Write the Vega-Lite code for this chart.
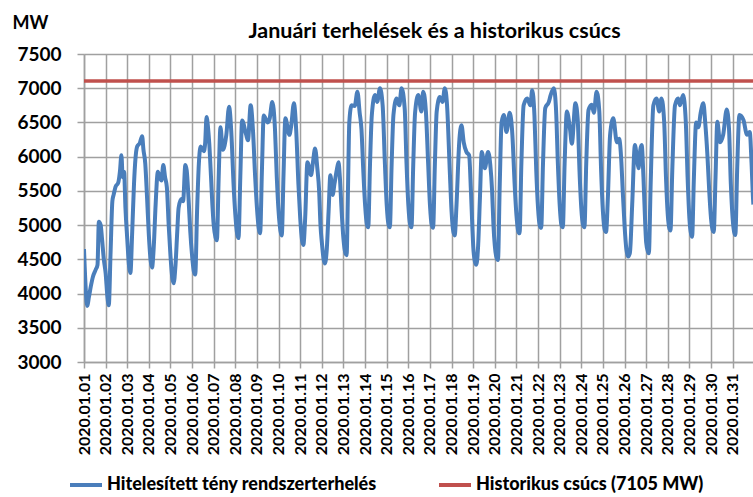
{
"$schema": "https://vega.github.io/schema/vega-lite/v6.json",
"width": 669, "height": 308,
"autosize": {"type": "none"},
"padding": {"left": 84, "top": 54, "right": 0, "bottom": 135},
"background": "white",
"config": {"font": "Lato", "view": {"stroke": null}},
"title": {"text": "Januári terhelések és a historikus csúcs", "fontSize": 21.5, "font": "Lato", "fontWeight": "bold", "color": "black", "anchor": "middle", "dx": 16, "offset": -28},
"encoding": {
"y": {"field": "v", "type": "quantitative",
"scale": {"domain": [3000, 7500], "nice": false},
"axis": {"title": "MW", "titleAngle": 0, "titleX": -72, "titleY": -26, "titleAlign": "left", "titleBaseline": "alphabetic", "titleFontSize": 18, "titleFontWeight": "bold", "titleColor": "black", "format": "d", "labelOverlap": false, "labelFlush": false, "labelFontSize": 19, "labelFontWeight": "bold", "labelColor": "black", "labelPadding": 16, "tickSize": 7, "tickColor": "#a0a0a0", "tickWidth": 1.5, "domainColor": "#a0a0a0", "domainWidth": 1.5, "gridColor": "#a0a0a0", "gridWidth": 1.5, "gridOpacity": 1, "values": [3000, 3500, 4000, 4500, 5000, 5500, 6000, 6500, 7000, 7500]}}
},
"layer": [
{
"data": {"values": [
{"t":"2020-01-01T00:00","v":4650},{"t":"2020-01-01T02:00","v":4050},{"t":"2020-01-01T03:30","v":3820},{"t":"2020-01-01T05:30","v":3950},{"t":"2020-01-01T07:30","v":4100},{"t":"2020-01-01T10:00","v":4250},{"t":"2020-01-01T13:00","v":4350},{"t":"2020-01-01T15:00","v":4420},{"t":"2020-01-01T16:30","v":5050},{"t":"2020-01-01T18:30","v":5000},{"t":"2020-01-01T20:00","v":4800},{"t":"2020-01-01T22:00","v":4500},
{"t":"2020-01-02T00:00","v":4300},{"t":"2020-01-02T02:00","v":3950},{"t":"2020-01-02T03:30","v":3830},{"t":"2020-01-02T05:30","v":4600},{"t":"2020-01-02T07:30","v":5350},{"t":"2020-01-02T09:00","v":5450},{"t":"2020-01-02T11:00","v":5560},{"t":"2020-01-02T14:00","v":5620},{"t":"2020-01-02T16:00","v":5800},{"t":"2020-01-02T17:30","v":6020},{"t":"2020-01-02T19:00","v":5700},{"t":"2020-01-02T20:30","v":5780},{"t":"2020-01-02T22:00","v":5250},
{"t":"2020-01-03T00:00","v":4800},{"t":"2020-01-03T02:00","v":4400},{"t":"2020-01-03T03:30","v":4300},{"t":"2020-01-03T05:30","v":4900},{"t":"2020-01-03T07:30","v":5600},{"t":"2020-01-03T09:00","v":5950},{"t":"2020-01-03T11:00","v":6150},{"t":"2020-01-03T14:00","v":6200},{"t":"2020-01-03T16:30","v":6300},{"t":"2020-01-03T18:00","v":6100},{"t":"2020-01-03T20:00","v":5900},{"t":"2020-01-03T22:00","v":5400},
{"t":"2020-01-04T00:00","v":4850},{"t":"2020-01-04T02:00","v":4480},{"t":"2020-01-04T03:30","v":4380},{"t":"2020-01-04T05:30","v":4700},{"t":"2020-01-04T07:30","v":5300},{"t":"2020-01-04T10:00","v":5780},{"t":"2020-01-04T12:00","v":5700},{"t":"2020-01-04T14:00","v":5650},{"t":"2020-01-04T16:00","v":5880},{"t":"2020-01-04T18:00","v":5700},{"t":"2020-01-04T20:00","v":5550},{"t":"2020-01-04T22:00","v":5000},
{"t":"2020-01-05T00:00","v":4550},{"t":"2020-01-05T02:00","v":4230},{"t":"2020-01-05T03:30","v":4150},{"t":"2020-01-05T05:30","v":4400},{"t":"2020-01-05T07:30","v":4900},{"t":"2020-01-05T09:00","v":5250},{"t":"2020-01-05T12:00","v":5380},{"t":"2020-01-05T14:00","v":5350},{"t":"2020-01-05T16:30","v":5880},{"t":"2020-01-05T18:00","v":5800},{"t":"2020-01-05T20:00","v":5400},{"t":"2020-01-05T22:00","v":4900},
{"t":"2020-01-06T00:00","v":4550},{"t":"2020-01-06T02:00","v":4320},{"t":"2020-01-06T03:30","v":4280},{"t":"2020-01-06T05:30","v":5200},{"t":"2020-01-06T07:30","v":5900},{"t":"2020-01-06T09:30","v":6150},{"t":"2020-01-06T13:00","v":6080},{"t":"2020-01-06T14:30","v":6200},{"t":"2020-01-06T16:00","v":6580},{"t":"2020-01-06T17:30","v":6450},{"t":"2020-01-06T19:00","v":6200},{"t":"2020-01-06T21:00","v":5700},{"t":"2020-01-06T22:30","v":5300},
{"t":"2020-01-07T00:00","v":5000},{"t":"2020-01-07T02:00","v":4820},{"t":"2020-01-07T03:30","v":4780},{"t":"2020-01-07T05:30","v":5700},{"t":"2020-01-07T07:30","v":6430},{"t":"2020-01-07T10:00","v":6100},{"t":"2020-01-07T14:00","v":6320},{"t":"2020-01-07T17:00","v":6730},{"t":"2020-01-07T19:30","v":6360},{"t":"2020-01-07T22:00","v":5600},
{"t":"2020-01-08T00:00","v":5150},{"t":"2020-01-08T02:00","v":4870},{"t":"2020-01-08T03:30","v":4810},{"t":"2020-01-08T05:30","v":5700},{"t":"2020-01-08T07:30","v":6530},{"t":"2020-01-08T12:00","v":6320},{"t":"2020-01-08T14:00","v":6240},{"t":"2020-01-08T17:00","v":6750},{"t":"2020-01-08T19:30","v":6400},{"t":"2020-01-08T22:00","v":5700},
{"t":"2020-01-09T00:00","v":5250},{"t":"2020-01-09T02:00","v":4950},{"t":"2020-01-09T03:30","v":4880},{"t":"2020-01-09T05:30","v":5800},{"t":"2020-01-09T07:30","v":6600},{"t":"2020-01-09T12:00","v":6500},{"t":"2020-01-09T14:00","v":6550},{"t":"2020-01-09T17:00","v":6800},{"t":"2020-01-09T20:00","v":6400},{"t":"2020-01-09T22:00","v":5700},
{"t":"2020-01-10T00:00","v":5200},{"t":"2020-01-10T02:00","v":4920},{"t":"2020-01-10T03:30","v":4850},{"t":"2020-01-10T05:30","v":5750},{"t":"2020-01-10T07:30","v":6560},{"t":"2020-01-10T12:00","v":6320},{"t":"2020-01-10T14:00","v":6450},{"t":"2020-01-10T17:00","v":6780},{"t":"2020-01-10T19:30","v":6400},{"t":"2020-01-10T22:00","v":5600},
{"t":"2020-01-11T00:00","v":5100},{"t":"2020-01-11T02:00","v":4780},{"t":"2020-01-11T03:30","v":4710},{"t":"2020-01-11T05:30","v":5100},{"t":"2020-01-11T08:00","v":5920},{"t":"2020-01-11T12:00","v":5730},{"t":"2020-01-11T14:00","v":5900},{"t":"2020-01-11T16:30","v":6120},{"t":"2020-01-11T19:00","v":5830},{"t":"2020-01-11T21:00","v":5500},{"t":"2020-01-11T22:30","v":5000},
{"t":"2020-01-12T00:00","v":4750},{"t":"2020-01-12T02:00","v":4500},{"t":"2020-01-12T03:30","v":4440},{"t":"2020-01-12T05:30","v":4650},{"t":"2020-01-12T07:30","v":5200},{"t":"2020-01-12T09:30","v":5730},{"t":"2020-01-12T12:00","v":5440},{"t":"2020-01-12T14:00","v":5600},{"t":"2020-01-12T16:30","v":5800},{"t":"2020-01-12T18:30","v":5920},{"t":"2020-01-12T20:00","v":5700},{"t":"2020-01-12T22:00","v":5200},
{"t":"2020-01-13T00:00","v":4800},{"t":"2020-01-13T02:00","v":4600},{"t":"2020-01-13T03:30","v":4560},{"t":"2020-01-13T05:00","v":5500},{"t":"2020-01-13T06:30","v":6500},{"t":"2020-01-13T09:00","v":6750},{"t":"2020-01-13T12:30","v":6740},{"t":"2020-01-13T15:30","v":6950},{"t":"2020-01-13T18:00","v":6640},{"t":"2020-01-13T20:00","v":6400},{"t":"2020-01-13T22:00","v":5800},
{"t":"2020-01-14T00:00","v":5300},{"t":"2020-01-14T02:00","v":5010},{"t":"2020-01-14T03:30","v":4970},{"t":"2020-01-14T05:30","v":5900},{"t":"2020-01-14T07:30","v":6610},{"t":"2020-01-14T11:00","v":6900},{"t":"2020-01-14T13:30","v":6800},{"t":"2020-01-14T16:30","v":7000},{"t":"2020-01-14T19:30","v":6750},{"t":"2020-01-14T22:00","v":5900},
{"t":"2020-01-15T00:00","v":5300},{"t":"2020-01-15T02:00","v":5010},{"t":"2020-01-15T03:30","v":4970},{"t":"2020-01-15T05:30","v":5900},{"t":"2020-01-15T07:30","v":6610},{"t":"2020-01-15T11:00","v":6850},{"t":"2020-01-15T14:00","v":6750},{"t":"2020-01-15T16:30","v":7000},{"t":"2020-01-15T20:00","v":6700},{"t":"2020-01-15T22:00","v":5900},
{"t":"2020-01-16T00:00","v":5300},{"t":"2020-01-16T02:00","v":5010},{"t":"2020-01-16T03:30","v":4970},{"t":"2020-01-16T05:30","v":5900},{"t":"2020-01-16T07:30","v":6640},{"t":"2020-01-16T11:00","v":6900},{"t":"2020-01-16T14:30","v":6660},{"t":"2020-01-16T16:30","v":6950},{"t":"2020-01-16T19:30","v":6660},{"t":"2020-01-16T22:00","v":5900},
{"t":"2020-01-17T00:00","v":5300},{"t":"2020-01-17T02:00","v":5000},{"t":"2020-01-17T03:30","v":4960},{"t":"2020-01-17T05:30","v":5900},{"t":"2020-01-17T07:30","v":6660},{"t":"2020-01-17T11:00","v":6870},{"t":"2020-01-17T14:00","v":6800},{"t":"2020-01-17T16:30","v":7000},{"t":"2020-01-17T19:00","v":6750},{"t":"2020-01-17T22:00","v":5800},
{"t":"2020-01-18T00:00","v":5200},{"t":"2020-01-18T02:00","v":4900},{"t":"2020-01-18T03:30","v":4850},{"t":"2020-01-18T05:30","v":5300},{"t":"2020-01-18T08:30","v":6210},{"t":"2020-01-18T11:00","v":6460},{"t":"2020-01-18T13:30","v":6210},{"t":"2020-01-18T16:30","v":6070},{"t":"2020-01-18T19:30","v":6020},{"t":"2020-01-18T21:30","v":5500},{"t":"2020-01-18T23:00","v":5000},
{"t":"2020-01-19T00:00","v":4700},{"t":"2020-01-19T02:00","v":4460},{"t":"2020-01-19T03:30","v":4420},{"t":"2020-01-19T05:30","v":4700},{"t":"2020-01-19T07:30","v":5400},{"t":"2020-01-19T09:30","v":6070},{"t":"2020-01-19T13:00","v":5830},{"t":"2020-01-19T16:30","v":6070},{"t":"2020-01-19T19:00","v":5880},{"t":"2020-01-19T21:00","v":5500},{"t":"2020-01-19T22:30","v":5000},
{"t":"2020-01-20T00:00","v":4700},{"t":"2020-01-20T02:00","v":4520},{"t":"2020-01-20T03:30","v":4490},{"t":"2020-01-20T05:30","v":5600},{"t":"2020-01-20T07:30","v":6500},{"t":"2020-01-20T10:00","v":6610},{"t":"2020-01-20T13:00","v":6360},{"t":"2020-01-20T16:30","v":6640},{"t":"2020-01-20T19:30","v":6320},{"t":"2020-01-20T22:00","v":5600},
{"t":"2020-01-21T00:00","v":5150},{"t":"2020-01-21T02:00","v":4910},{"t":"2020-01-21T03:30","v":4880},{"t":"2020-01-21T05:30","v":5900},{"t":"2020-01-21T08:00","v":6750},{"t":"2020-01-21T12:00","v":6850},{"t":"2020-01-21T15:30","v":6750},{"t":"2020-01-21T17:30","v":6970},{"t":"2020-01-21T20:00","v":6600},{"t":"2020-01-21T22:00","v":5800},
{"t":"2020-01-22T00:00","v":5250},{"t":"2020-01-22T02:00","v":4990},{"t":"2020-01-22T03:30","v":4960},{"t":"2020-01-22T05:30","v":5900},{"t":"2020-01-22T08:00","v":6710},{"t":"2020-01-22T12:00","v":6800},{"t":"2020-01-22T14:00","v":6900},{"t":"2020-01-22T17:30","v":7000},{"t":"2020-01-22T20:00","v":6680},{"t":"2020-01-22T22:00","v":5900},
{"t":"2020-01-23T00:00","v":5300},{"t":"2020-01-23T02:00","v":5000},{"t":"2020-01-23T03:30","v":4970},{"t":"2020-01-23T05:30","v":5900},{"t":"2020-01-23T08:00","v":6660},{"t":"2020-01-23T11:30","v":6400},{"t":"2020-01-23T13:30","v":6190},{"t":"2020-01-23T17:30","v":6780},{"t":"2020-01-23T20:00","v":6550},{"t":"2020-01-23T22:00","v":5800},
{"t":"2020-01-24T00:00","v":5250},{"t":"2020-01-24T02:00","v":5000},{"t":"2020-01-24T03:30","v":4970},{"t":"2020-01-24T05:30","v":5900},{"t":"2020-01-24T08:00","v":6680},{"t":"2020-01-24T11:30","v":6760},{"t":"2020-01-24T14:00","v":6640},{"t":"2020-01-24T17:00","v":6950},{"t":"2020-01-24T20:00","v":6660},{"t":"2020-01-24T22:00","v":5800},
{"t":"2020-01-25T00:00","v":5200},{"t":"2020-01-25T02:00","v":4930},{"t":"2020-01-25T03:30","v":4900},{"t":"2020-01-25T05:30","v":5400},{"t":"2020-01-25T08:00","v":6320},{"t":"2020-01-25T11:30","v":6560},{"t":"2020-01-25T15:30","v":6210},{"t":"2020-01-25T18:00","v":6260},{"t":"2020-01-25T20:30","v":5920},{"t":"2020-01-25T22:00","v":5500},
{"t":"2020-01-26T00:00","v":5000},{"t":"2020-01-26T02:00","v":4650},{"t":"2020-01-26T04:00","v":4540},{"t":"2020-01-26T06:00","v":4600},{"t":"2020-01-26T08:30","v":5300},{"t":"2020-01-26T11:30","v":6170},{"t":"2020-01-26T14:00","v":5950},{"t":"2020-01-26T15:30","v":5830},{"t":"2020-01-26T17:30","v":6100},{"t":"2020-01-26T19:00","v":6170},{"t":"2020-01-26T21:00","v":5700},{"t":"2020-01-26T23:00","v":5000},
{"t":"2020-01-27T00:00","v":4750},{"t":"2020-01-27T02:00","v":4610},{"t":"2020-01-27T03:00","v":4590},{"t":"2020-01-27T05:00","v":5600},{"t":"2020-01-27T08:00","v":6750},{"t":"2020-01-27T11:30","v":6850},{"t":"2020-01-27T14:30","v":6660},{"t":"2020-01-27T17:00","v":6850},{"t":"2020-01-27T20:00","v":6510},{"t":"2020-01-27T22:00","v":5700},
{"t":"2020-01-28T00:00","v":5150},{"t":"2020-01-28T02:00","v":4940},{"t":"2020-01-28T03:00","v":4920},{"t":"2020-01-28T05:00","v":5800},{"t":"2020-01-28T08:00","v":6750},{"t":"2020-01-28T11:30","v":6850},{"t":"2020-01-28T13:30","v":6750},{"t":"2020-01-28T17:00","v":6900},{"t":"2020-01-28T20:00","v":6510},{"t":"2020-01-28T22:00","v":5700},
{"t":"2020-01-29T00:00","v":5100},{"t":"2020-01-29T02:00","v":4860},{"t":"2020-01-29T03:00","v":4830},{"t":"2020-01-29T05:00","v":5700},{"t":"2020-01-29T07:30","v":6500},{"t":"2020-01-29T10:00","v":6430},{"t":"2020-01-29T12:30","v":6640},{"t":"2020-01-29T15:30","v":6780},{"t":"2020-01-29T17:30","v":6510},{"t":"2020-01-29T20:00","v":6020},{"t":"2020-01-29T22:00","v":5500},
{"t":"2020-01-30T00:00","v":5100},{"t":"2020-01-30T02:00","v":4920},{"t":"2020-01-30T03:00","v":4900},{"t":"2020-01-30T05:00","v":5700},{"t":"2020-01-30T07:00","v":6510},{"t":"2020-01-30T10:00","v":6210},{"t":"2020-01-30T13:30","v":6320},{"t":"2020-01-30T17:30","v":6690},{"t":"2020-01-30T20:00","v":6400},{"t":"2020-01-30T22:00","v":5600},
{"t":"2020-01-31T00:00","v":5100},{"t":"2020-01-31T02:00","v":4880},{"t":"2020-01-31T03:00","v":4855},{"t":"2020-01-31T05:00","v":5800},{"t":"2020-01-31T07:30","v":6610},{"t":"2020-01-31T12:00","v":6535},{"t":"2020-01-31T16:00","v":6320},{"t":"2020-01-31T19:00","v":6360},{"t":"2020-01-31T21:00","v":5900},{"t":"2020-01-31T22:30","v":5420},{"t":"2020-01-31T23:00","v":5300}
]},
"mark": {"type": "line", "strokeWidth": 4, "clip": true, "interpolate": "monotone"},
"encoding": {
"x": {"field": "t", "type": "temporal",
"scale": {"domain": [{"year": 2020, "month": 1, "date": 1, "hours": 0}, {"year": 2020, "month": 1, "date": 31, "hours": 22, "minutes": 36}], "nice": false},
"axis": {"title": null, "format": "%Y.%m.%d", "labelAngle": -90, "labelFontSize": 16, "labelFontWeight": "bold", "labelColor": "black", "labelPadding": 5, "tickSize": 6, "tickCount": {"interval": "day", "step": 1}, "labelOverlap": false, "labelFlush": false, "labelBound": false, "grid": true, "gridColor": "#a0a0a0", "gridWidth": 1.5, "gridOpacity": 1, "tickColor": "#a0a0a0", "tickWidth": 1.5, "domainColor": "#a0a0a0", "domainWidth": 1.5}},
"color": {"datum": "Hitelesített tény rendszerterhelés",
"scale": {"domain": ["Hitelesített tény rendszerterhelés", "Historikus csúcs (7105 MW)"], "range": ["#4a7ebb", "#c0504d"]},
"legend": {"orient": "none", "legendX": -16, "legendY": 413, "direction": "horizontal", "title": null, "symbolType": "stroke", "symbolSize": 1024, "symbolStrokeWidth": 4, "labelFont": "Lato", "labelFontSize": 18, "labelFontWeight": 900, "labelColor": "black", "columnPadding": 54, "labelOffset": 3, "labelLimit": 400}}
}
},
{
"data": {"values": [{"v": 7105}]},
"mark": {"type": "rule", "strokeWidth": 3.5},
"encoding": {
"color": {"datum": "Historikus csúcs (7105 MW)"}
}
}
]
}
